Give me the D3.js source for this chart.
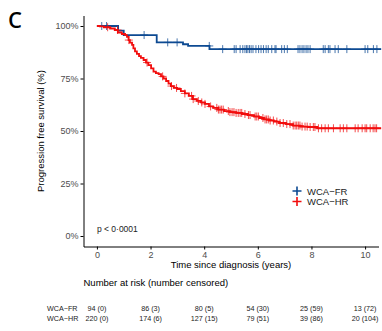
<!DOCTYPE html>
<html lang="en">
<head>
<meta charset="UTF-8">
<title>PFS by WCA group</title>
<style>
  body { margin: 0; background: #fff; }
  svg { font-family: "Liberation Sans", Arial, sans-serif; display: block; }
  .axis text { fill: #4d4d4d; font-size: 9px; }
  .axis line, .axis path { stroke: #000; }
</style>
</head>
<body>
<script src="https://cdn.jsdelivr.net/npm/d3@7/dist/d3.min.js"></script>
<script>
// ---- data ----
var groups = ["WCA\u2212FR", "WCA\u2212HR"];
var colors = ["#0d4a92", "#f20d0d"];

// WCA-FR step curve (time in years, survival)
var frTime = [0, 0.79, 1.00, 2.23, 3.21, 3.40, 4.20];
var frSurv = [1, 0.978, 0.957, 0.922, 0.913, 0.905, 0.890];
var frCensor = [0.18, 0.36, 1.76, 2.64, 2.99, 4.19, 4.69, 5.12, 5.19, 5.34, 5.44, 5.52, 5.58,
  5.63, 5.69, 5.75, 5.82, 5.93, 6.03, 6.12, 6.21, 6.31, 6.39, 6.52, 6.64, 6.68, 6.89, 6.99,
  7.10, 7.50, 7.57, 7.65, 7.72, 7.80, 7.87, 7.95, 8.44, 8.51, 8.63, 8.69, 8.88, 9.00, 9.32,
  10.00, 10.10, 10.31, 10.44];

// WCA-HR step curve
var hrTime = [0, 0.11, 0.26, 0.49, 0.67, 0.78, 0.93, 1.05, 1.12, 1.18, 1.23, 1.31, 1.36, 1.42,
  1.49, 1.57, 1.64, 1.74, 1.83, 1.92, 2.02, 2.11, 2.20, 2.30, 2.39, 2.48, 2.58, 2.67, 2.76,
  2.87, 2.99, 3.13, 3.28, 3.43, 3.58, 3.73, 3.88, 4.03, 4.18, 4.33, 4.52, 4.74, 4.96, 5.19,
  5.41, 5.63, 5.86, 6.05, 6.23, 6.42, 6.60, 6.79, 7.05, 7.31, 7.58, 7.87, 8.21];
var hrSurv = [1, 0.998, 0.994, 0.988, 0.981, 0.969, 0.962, 0.957, 0.948, 0.933, 0.921, 0.910,
  0.893, 0.879, 0.867, 0.857, 0.848, 0.838, 0.826, 0.814, 0.798, 0.783, 0.776, 0.771, 0.760,
  0.750, 0.738, 0.726, 0.714, 0.705, 0.700, 0.690, 0.679, 0.667, 0.652, 0.643, 0.636, 0.629,
  0.617, 0.610, 0.602, 0.595, 0.590, 0.586, 0.581, 0.576, 0.569, 0.562, 0.555, 0.550, 0.545,
  0.538, 0.533, 0.526, 0.521, 0.519, 0.513];
var hrCensor = [0.40, 0.77, 1.19, 1.87, 2.45, 2.78, 2.97, 3.28, 3.53, 3.59, 3.78, 3.91, 4.03,
  4.24, 4.47, 4.53, 4.59, 4.65, 4.71, 4.90, 4.96, 5.04, 5.11, 5.19, 5.27, 5.34, 5.40, 5.52,
  5.65, 5.71, 5.90, 5.96, 6.02, 6.19, 6.27, 6.33, 6.39, 6.46, 6.58, 6.71, 6.83, 6.95, 7.08,
  7.20, 7.32, 7.39, 7.45, 7.51, 7.57, 7.65, 7.76, 7.84, 7.95, 8.07, 8.13, 8.26, 8.38, 8.51,
  8.63, 8.82, 9.07, 9.19, 9.32, 9.63, 9.74, 9.89, 10.00, 10.06, 10.19, 10.30, 10.37, 10.43];

var followUpEnd = 10.6;

var xTicks = [0, 2, 4, 6, 8, 10];
var yTicks = [0, 0.25, 0.5, 0.75, 1];

var riskTimes = [0, 2, 4, 6, 8, 10];
var riskFR = ["94 (0)", "86 (3)", "80 (5)", "54 (30)", "25 (59)", "13 (72)"];
var riskHR = ["220 (0)", "174 (6)", "127 (15)", "79 (51)", "39 (86)", "20 (104)"];

var pText = "p < 0\u00b70001";

// ---- layout ----
var W = 382, H = 331;
var plot = {left: 83.5, right: 378.5, top: 15.5, bottom: 246.5};

var svg = d3.select("body").append("svg")
    .attr("width", W)
    .attr("height", H);

var x = d3.scaleLinear().domain([-0.5, 10.5]).range([plot.left, plot.right]);
var y = d3.scaleLinear().domain([-0.05, 1.05]).range([plot.bottom, plot.top]);

svg.append("defs").append("clipPath").attr("id", "clip")
  .append("rect")
    .attr("x", plot.left).attr("y", 0)
    .attr("width", W - plot.left).attr("height", plot.bottom);

// panel letter
svg.append("text")
    .attr("x", 8).attr("y", 28)
    .style("font-family", "'Open Sans', 'Liberation Sans', sans-serif")
    .style("font-size", "22px")
    .style("font-weight", "600")
    .attr("fill", "#000")
    .text("C");

// axes
var yAxis = d3.axisLeft(y).tickValues(yTicks).tickSize(3).tickSizeOuter(0)
    .tickFormat(d3.format(".0%")).tickPadding(2);
svg.append("g").attr("class", "axis")
    .attr("transform", "translate(" + plot.left + ",0)")
    .call(yAxis);

var xAxis = d3.axisBottom(x).tickValues(xTicks).tickSize(3).tickSizeOuter(0).tickPadding(2);
svg.append("g").attr("class", "axis")
    .attr("transform", "translate(0," + plot.bottom + ")")
    .call(xAxis);

// axis titles
svg.append("text")
    .attr("transform", "translate(44," + ((plot.top + plot.bottom) / 2) + ") rotate(-90)")
    .attr("text-anchor", "middle")
    .style("font-size", "9.5px")
    .text("Progression free survival (%)");

svg.append("text")
    .attr("x", 231).attr("y", 268)
    .attr("text-anchor", "middle")
    .style("font-size", "9.5px")
    .text("Time since diagnosis (years)");

// curves
function stepOf(times, survs) {
  var pts = times.map(function(t, i) { return [t, survs[i]]; });
  pts.push([followUpEnd, survs[survs.length - 1]]);
  return pts;
}
function survAt(times, survs, t) {
  var i = d3.bisectRight(times, t) - 1;
  return survs[Math.max(0, i)];
}

var series = [
  {time: frTime, surv: frSurv, censor: frCensor, color: colors[0]},
  {time: hrTime, surv: hrSurv, censor: hrCensor, color: colors[1]}
];

var line = d3.line()
    .x(function(d) { return x(d[0]); })
    .y(function(d) { return y(d[1]); })
    .curve(d3.curveStepAfter);

var curves = svg.append("g").attr("clip-path", "url(#clip)");

series.forEach(function(s) {
  curves.append("path")
      .datum(stepOf(s.time, s.surv))
      .attr("fill", "none")
      .attr("stroke", s.color)
      .attr("stroke-width", 1.8)
      .attr("d", line);

  curves.selectAll(null)
      .data(s.censor)
      .enter().append("path")
      .attr("transform", function(t) {
        return "translate(" + x(t) + "," + y(survAt(s.time, s.surv, t)) + ")";
      })
      .attr("d", "M-4,0H4M0,-4V4")
      .attr("stroke", s.color)
      .attr("stroke-width", 1)
      .attr("stroke-opacity", 0.75)
      .attr("fill", "none");
});

// p value
svg.append("text")
    .attr("x", x(0)).attr("y", 232)
    .style("font-size", "8.5px")
    .attr("fill", "#222")
    .text(pText);

// legend
var legend = svg.append("g").attr("transform", "translate(297,191)");
groups.forEach(function(g, i) {
  var row = legend.append("g").attr("transform", "translate(0," + (i * 10.5) + ")");
  row.append("path")
      .attr("d", "M-4.5,0H4.5M0,-4.5V4.5")
      .attr("stroke", colors[i])
      .attr("stroke-width", 1.6);
  row.append("text")
      .attr("x", 10).attr("y", 3.5)
      .style("font-size", "9.5px")
      .attr("fill", "#222")
      .text(g);
});

// risk table
svg.append("text")
    .attr("x", 83.5).attr("y", 286)
    .style("font-size", "9.5px")
    .text("Number at risk (number censored)");

[riskFR, riskHR].forEach(function(row, i) {
  var yy = 310.5 + i * 10.5;
  svg.append("text")
      .attr("x", 47).attr("y", yy)
      .style("font-size", "7.2px")
      .attr("fill", "#222")
      .text(groups[i]);
  svg.selectAll(null)
      .data(row)
      .enter().append("text")
      .attr("x", function(d, j) { return x(riskTimes[j]); })
      .attr("y", yy)
      .attr("text-anchor", "middle")
      .style("font-size", "7.2px")
      .attr("fill", "#222")
      .text(function(d) { return d; });
});
</script>
</body>
</html>
